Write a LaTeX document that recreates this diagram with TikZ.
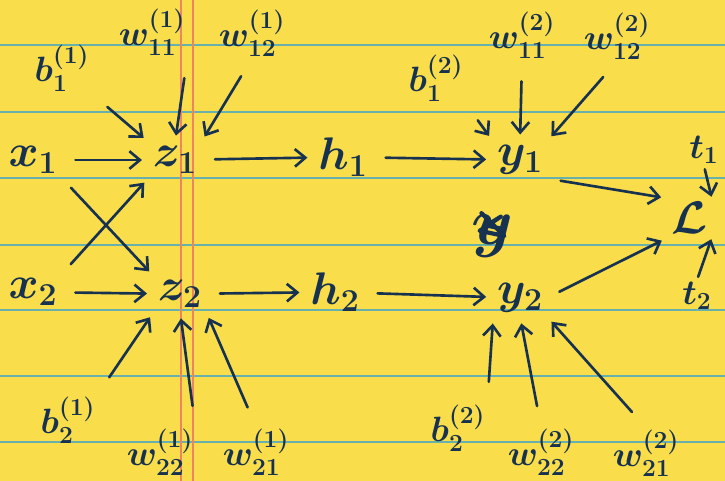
\RequirePackage{fix-cm}
\documentclass[tikz,border=0pt]{standalone}
\usepackage{amsmath}
\usetikzlibrary{arrows.meta}
\definecolor{paper}{RGB}{250,221,74}
\definecolor{rulecol}{RGB}{104,176,172}
\definecolor{margincol}{RGB}{238,132,96}
\definecolor{ink}{RGB}{22,50,80}
\tikzset{
  var/.style={text=ink, font=\fontsize{26}{30}\selectfont\boldmath, inner sep=2pt},
  param/.style={text=ink, font=\fontsize{20}{24}\selectfont\boldmath, inner sep=1pt},
  link/.style={draw=ink, line width=1.5pt, line cap=round, shorten <=8pt, shorten >=4pt,
    -{Straight Barb[length=6pt,width=10pt,line width=1.5pt]}},
  feed/.style={link, shorten <=12pt},
}
\begin{document}
\begin{tikzpicture}[x=0.02cm, y=-0.02cm]
    
    % Paper
    \fill[paper] (0,0) rectangle (725,481);
    \useasboundingbox (0,0) rectangle (725,481);
    \foreach \y in {45,112,178,245,310,376,442}
        \draw[rulecol, line width=1.6pt] (0,\y) -- (725,\y);
    \foreach \x in {181,193}
        \draw[margincol, line width=0.9pt] (\x,0) -- (\x,481);
    
    % Nodes
    \node (x1) [var] at (33,160) {$x_1$};
    \node (x2) [var] at (33,292) {$x_2$};
    \node (z1) [var] at (175,160) {$z_1$};
    \node (z2) [var] at (180,294) {$z_2$};
    \node (h1) [var] at (343,157) {$h_1$};
    \node (h2) [var] at (335,292) {$h_2$};
    \node (y1) [var] at (520,160) {$y_1$};
    \node (y2) [var] at (520,298) {$y_2$};
    \node (ycross) [var, font=\fontsize{38}{42}\selectfont\boldmath] at (492,236) {$y$};
    \node (loss) [var] at (690,218) {$\mathcal{L}$};
    \node (t1) [param] at (704,150) {$t_1$};
    \node (t2) [param] at (697,296) {$t_2$};
    
    \node (b11) [param] at (62,68) {$b_1^{(1)}$};
    \node (w111) [param] at (152,32) {$w_{11}^{(1)}$};
    \node (w121) [param] at (252,33) {$w_{12}^{(1)}$};
    \node (b21) [param] at (68,420) {$b_2^{(1)}$};
    \node (w221) [param] at (160,452) {$w_{22}^{(1)}$};
    \node (w211) [param] at (256,452) {$w_{21}^{(1)}$};
    
    \node (b12) [param] at (436,78) {$b_1^{(2)}$};
    \node (w112) [param] at (522,35) {$w_{11}^{(2)}$};
    \node (w122) [param] at (617,36) {$w_{12}^{(2)}$};
    \node (b22) [param] at (458,428) {$b_2^{(2)}$};
    \node (w222) [param] at (541,452) {$w_{22}^{(2)}$};
    \node (w212) [param] at (646,453) {$w_{21}^{(2)}$};
    
    % Scribble over the y
    \draw[ink, line width=2.4pt, line cap=round, line join=round]
        ([shift={(-6pt,13pt)}]ycross.center) -- ([shift={(7pt,0pt)}]ycross.center)
        -- ([shift={(-7pt,3pt)}]ycross.center) -- ([shift={(5pt,11pt)}]ycross.center)
        -- ([shift={(-3pt,6pt)}]ycross.center) -- ([shift={(6pt,4pt)}]ycross.center);
    
    % Arrows
    \draw [link] (x1) -- (z1);
    \draw [link] (x2) -- (z2);
    \draw [link] (x1.south east) -- (z2.north west);
    \draw [link] (x2.north east) -- (z1.south west);
    \draw [link] (z1) -- (h1);
    \draw [link] (z2) -- (h2);
    \draw [link] (h1) -- (y1);
    \draw [link] (h2) -- (y2);
    \draw [link] (y1.south east) -- (loss.north west);
    \draw [link] (y2.east) -- (loss.south west);
    \draw [link, shorten <=2pt, shorten >=1pt] (t1.south) -- (loss.north east);
    \draw [link, shorten <=2pt, shorten >=1pt] (t2.north) -- (loss.south east);
    
    \draw [feed] (b11.south east) -- (z1.north west);
    \draw [feed] (w111.south east) -- (z1.north);
    \draw [feed] (w121.south) -- (z1.north east);
    \draw [feed] (b21.north east) -- (z2.south west);
    \draw [feed] (w221.north east) -- (z2.south);
    \draw [feed] (w211.north) -- (z2.south east);
    
    \draw [feed] (b12.south east) -- (y1.north west);
    \draw [feed] (w112.south) -- (y1.north);
    \draw [feed] (w122.south) -- (y1.north east);
    \draw [feed] (b22.north east) -- (y2.south west);
    \draw [feed] (w222.north) -- (y2.south);
    \draw [feed] (w212.north) -- (y2.south east);
    
\end{tikzpicture}
\end{document}
